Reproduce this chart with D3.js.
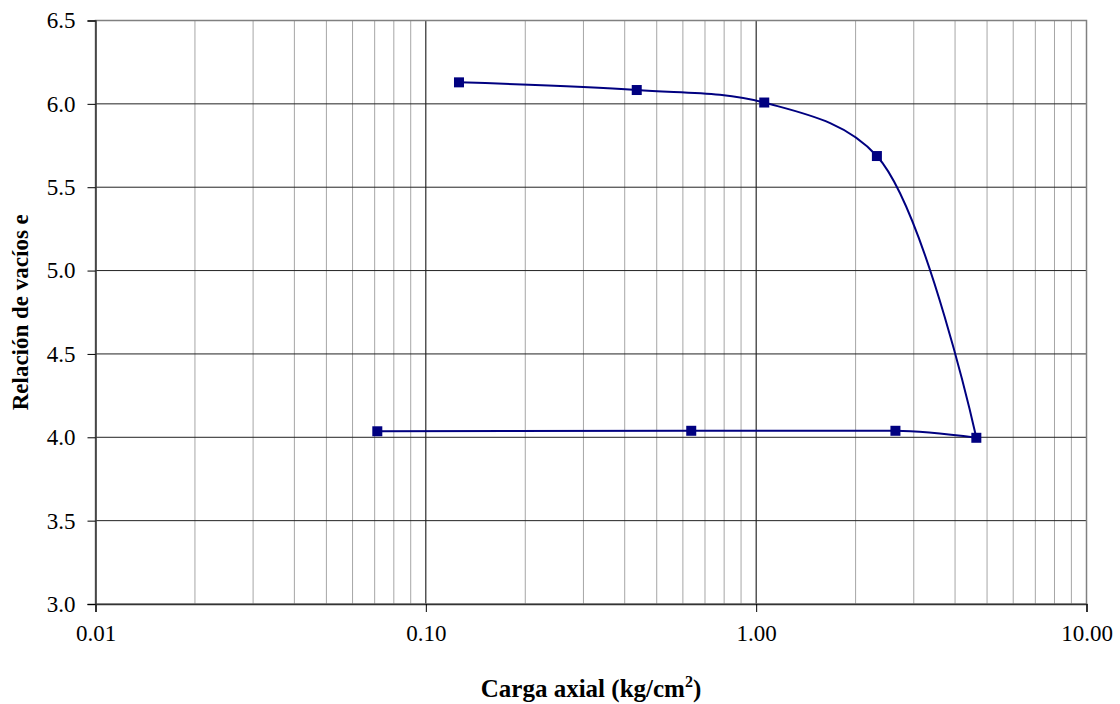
<!DOCTYPE html>
<html>
<head>
    <meta charset="utf-8">
    <title>Relación de vacíos vs carga axial</title>
    <script src="https://d3js.org/d3.v7.min.js"></script>
    <style>
        body { margin: 0; background: #fff; }
        svg text { font-family: "Times New Roman", "Liberation Serif", Tinos, "DejaVu Serif", serif; }
    </style>
</head>
<body>
    <div id="chart"></div>

    <script>
        // loading branch (carga) and unloading branch (descarga)
        const loadX = [0.126, 0.435, 1.058, 2.32, 4.64];
        const loadY = [6.129, 6.083, 6.008, 5.687, 3.997];
        const unloadX = [4.64, 2.64, 0.636, 0.0713];
        const unloadY = [3.997, 4.039, 4.039, 4.036];

        const xTicks = [0.01, 0.1, 1, 10];
        const yTicks = [3.0, 3.5, 4.0, 4.5, 5.0, 5.5, 6.0, 6.5];

        const serif = "'Times New Roman', 'Liberation Serif', Tinos, 'DejaVu Serif', serif";

        const margin = {top: 20.5, right: 33.5, bottom: 100, left: 95.5};
        const width = 1120 - margin.left - margin.right;
        const height = 704 - margin.top - margin.bottom;

        const svg = d3.select("#chart").append("svg")
            .attr("width", 1120)
            .attr("height", 704);

        const g = svg.append("g")
            .attr("transform", "translate(" + margin.left + "," + margin.top + ")");

        const x = d3.scaleLog()
            .domain([0.01, 10])
            .range([0, width]);

        const y = d3.scaleLinear()
            .domain([3, 6.5])
            .range([height, 0]);

        // minor vertical grid (2..9 in each decade)
        const minor = [];
        for (let d = 0.01; d < 10; d *= 10) {
            for (let k = 2; k <= 9; k++) minor.push(d * k);
        }
        g.selectAll(".minor")
            .data(minor)
            .join("line")
              .attr("x1", d => x(d)).attr("x2", d => x(d))
              .attr("y1", 0).attr("y2", height)
              .attr("stroke", "#a6a6a6")
              .attr("stroke-width", 1);

        // major vertical grid
        g.selectAll(".major")
            .data(xTicks.slice(1, -1))
            .join("line")
              .attr("x1", d => x(d)).attr("x2", d => x(d))
              .attr("y1", 0).attr("y2", height)
              .attr("stroke", "#000")
              .attr("stroke-width", 1);

        // horizontal grid
        g.selectAll(".hgrid")
            .data(yTicks.slice(1, -1))
            .join("line")
              .attr("x1", 0).attr("x2", width)
              .attr("y1", d => y(d)).attr("y2", d => y(d))
              .attr("stroke", "#222")
              .attr("stroke-width", 1);

        // plot border (top and right gray)
        g.append("rect")
            .attr("width", width).attr("height", height)
            .attr("fill", "none")
            .attr("stroke", "#808080")
            .attr("stroke-width", 1.5);

        const xAxis = g.append("g")
            .attr("transform", "translate(0," + height + ")")
            .call(d3.axisBottom(x).tickValues(xTicks).tickFormat(d3.format(".2f")).tickSize(8).tickPadding(13));

        const yAxis = g.append("g")
            .call(d3.axisLeft(y).tickValues(yTicks).tickFormat(d3.format(".1f")).tickSize(8).tickPadding(12));

        [xAxis, yAxis].forEach(a => {
            a.attr("font-family", serif).attr("font-size", 23);
            a.select(".domain").attr("stroke", "#333").attr("stroke-width", 1.5);
            a.selectAll(".tick line").attr("stroke", "#000");
            a.selectAll("text").attr("fill", "#000");
        });

        const loadLine = d3.line()
            .x(d => x(d[0]))
            .y(d => y(d[1]))
            .curve(d3.curveCatmullRom.alpha(0.5));

        const unloadLine = d3.line()
            .x(d => x(d[0]))
            .y(d => y(d[1]))
            .curve(d3.curveMonotoneX);

        const loadPts = loadX.map((v, i) => [v, loadY[i]]);
        const unloadPts = unloadX.map((v, i) => [v, unloadY[i]]);

        g.append("path")
            .datum(loadPts)
            .attr("fill", "none")
            .attr("stroke", "#000080")
            .attr("stroke-width", 2)
            .attr("d", loadLine);

        g.append("path")
            .datum(unloadPts.slice().reverse())
            .attr("fill", "none")
            .attr("stroke", "#000080")
            .attr("stroke-width", 2)
            .attr("d", unloadLine);

        g.selectAll(".pt")
            .data(loadPts.concat(unloadPts.slice(1)))
            .join("rect")
              .attr("x", d => x(d[0]) - 5)
              .attr("y", d => y(d[1]) - 5)
              .attr("width", 10).attr("height", 10)
              .attr("fill", "#000080");

        // axis titles
        const xt = svg.append("text")
            .attr("x", margin.left + width / 2)
            .attr("y", 697)
            .attr("text-anchor", "middle")
            .attr("font-family", serif)
            .attr("font-size", 25)
            .attr("font-weight", "bold");
        xt.append("tspan").text("Carga axial (kg/cm");
        xt.append("tspan").attr("dy", -10).attr("font-size", 16).text("2");
        xt.append("tspan").attr("dy", 10).text(")");

        svg.append("text")
            .attr("transform", "translate(28," + (margin.top + height / 2) + ") rotate(-90)")
            .attr("text-anchor", "middle")
            .attr("font-family", serif)
            .attr("font-size", 23)
            .attr("font-weight", "bold")
            .text("Relación de vacíos e");
    </script>
</body>
</html>
